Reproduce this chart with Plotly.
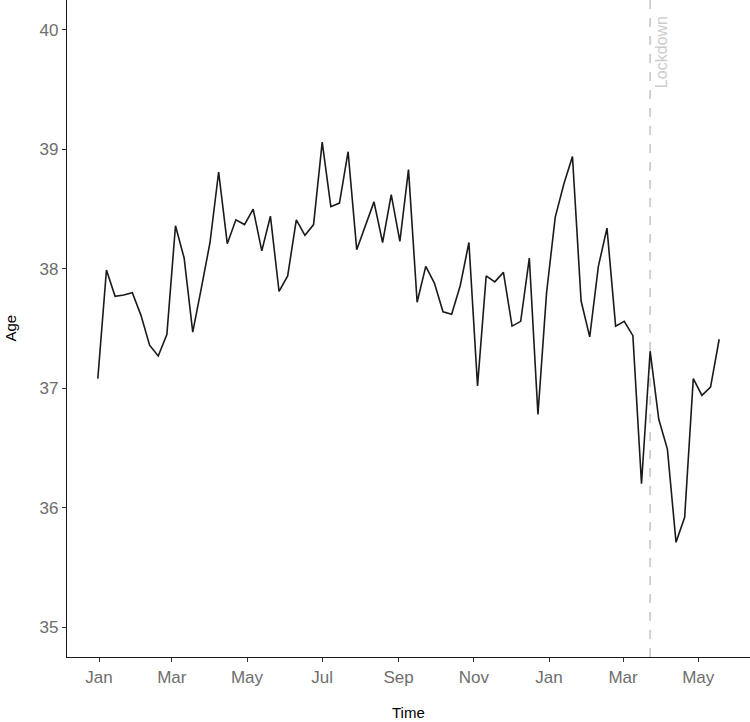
import pandas as pd
import plotly.graph_objects as go

# Weekly series, starting Monday 2018-12-31
start_date = "2018-12-31"
age = [
    37.08, 37.99, 37.77, 37.78, 37.80, 37.61, 37.36, 37.27, 37.45, 38.36,
    38.09, 37.47, 37.84, 38.22, 38.81, 38.21, 38.41, 38.37, 38.50, 38.15,
    38.44, 37.81, 37.94, 38.41, 38.28, 38.37, 39.06, 38.52, 38.55, 38.98,
    38.16, 38.36, 38.56, 38.22, 38.62, 38.23, 38.83, 37.72, 38.02, 37.88,
    37.64, 37.62, 37.86, 38.22, 37.02, 37.94, 37.89, 37.97, 37.52, 37.56,
    38.09, 36.78, 37.80, 38.43, 38.71, 38.94, 37.73, 37.43, 38.02, 38.34,
    37.52, 37.56, 37.44, 36.20, 37.31, 36.74, 36.49, 35.71, 35.92, 37.08,
    36.94, 37.01, 37.41,
]
dates = pd.date_range(start_date, periods=len(age), freq="7D")

lockdown_date = "2020-03-23"
lockdown_label = "Lockdown"

x_tick_dates = ["2019-01-01", "2019-03-01", "2019-05-01", "2019-07-01", "2019-09-01",
                "2019-11-01", "2020-01-01", "2020-03-01", "2020-05-01"]
x_tick_labels = ["Jan", "Mar", "May", "Jul", "Sep", "Nov", "Jan", "Mar", "May"]
y_ticks = [35, 36, 37, 38, 39, 40]

FONT = "Liberation Sans, Arial, sans-serif"
TICK_GREY = "#6e6e6e"

fig = go.Figure()
fig.add_trace(
    go.Scatter(
        x=dates,
        y=age,
        mode="lines",
        line=dict(color="#1a1a1a", width=1.6),
        showlegend=False,
    )
)

# lockdown marker
fig.add_shape(
    type="line",
    xref="x", yref="paper",
    x0=lockdown_date, x1=lockdown_date, y0=0, y1=1,
    line=dict(color="#cccccc", width=1.8, dash="dash"),
    layer="below",
)
fig.add_annotation(
    x=lockdown_date, y=1, xref="x", yref="paper",
    text=lockdown_label, textangle=-90,
    xanchor="center", yanchor="top", xshift=11, yshift=-14,
    showarrow=False,
    font=dict(family=FONT, size=16, color="#cccccc"),
)

# axis titles placed by hand (ggplot style)
fig.add_annotation(
    x=0, y=0.5, xref="paper", yref="paper", xshift=-57,
    xanchor="center", yanchor="middle",
    text="Age", textangle=-90, showarrow=False,
    font=dict(family=FONT, size=15, color="#000000"),
)
fig.add_annotation(
    x=0.5, y=0, xref="paper", yref="paper", yshift=-55,
    xanchor="center", yanchor="middle",
    text="Time", showarrow=False,
    font=dict(family=FONT, size=15, color="#000000"),
)

fig.update_xaxes(
    range=["2018-12-06", "2020-06-12"],
    tickvals=x_tick_dates,
    ticktext=x_tick_labels,
    showgrid=False, zeroline=False, automargin=False,
    showline=True, linecolor="#1a1a1a", linewidth=1.4,
    ticks="outside", ticklen=4, tickcolor="#333333", tickwidth=1,
    tickfont=dict(family=FONT, size=17, color=TICK_GREY),
)
fig.update_yaxes(
    range=[34.75, 40.25],
    tickvals=y_ticks,
    showgrid=False, zeroline=False, automargin=False,
    showline=True, linecolor="#1a1a1a", linewidth=1.4,
    ticks="outside", ticklen=4, tickcolor="#333333", tickwidth=1,
    tickfont=dict(family=FONT, size=17, color=TICK_GREY),
)
fig.update_layout(
    width=750, height=722,
    margin=dict(l=67, r=0, t=0, b=65),
    plot_bgcolor="white",
    paper_bgcolor="white",
)

# drop the page's default body margin so the figure sits at the window origin
fig.write_html(
    "out.html",
    config={"displayModeBar": False},
    post_script="document.body.style.margin='0';",
)
